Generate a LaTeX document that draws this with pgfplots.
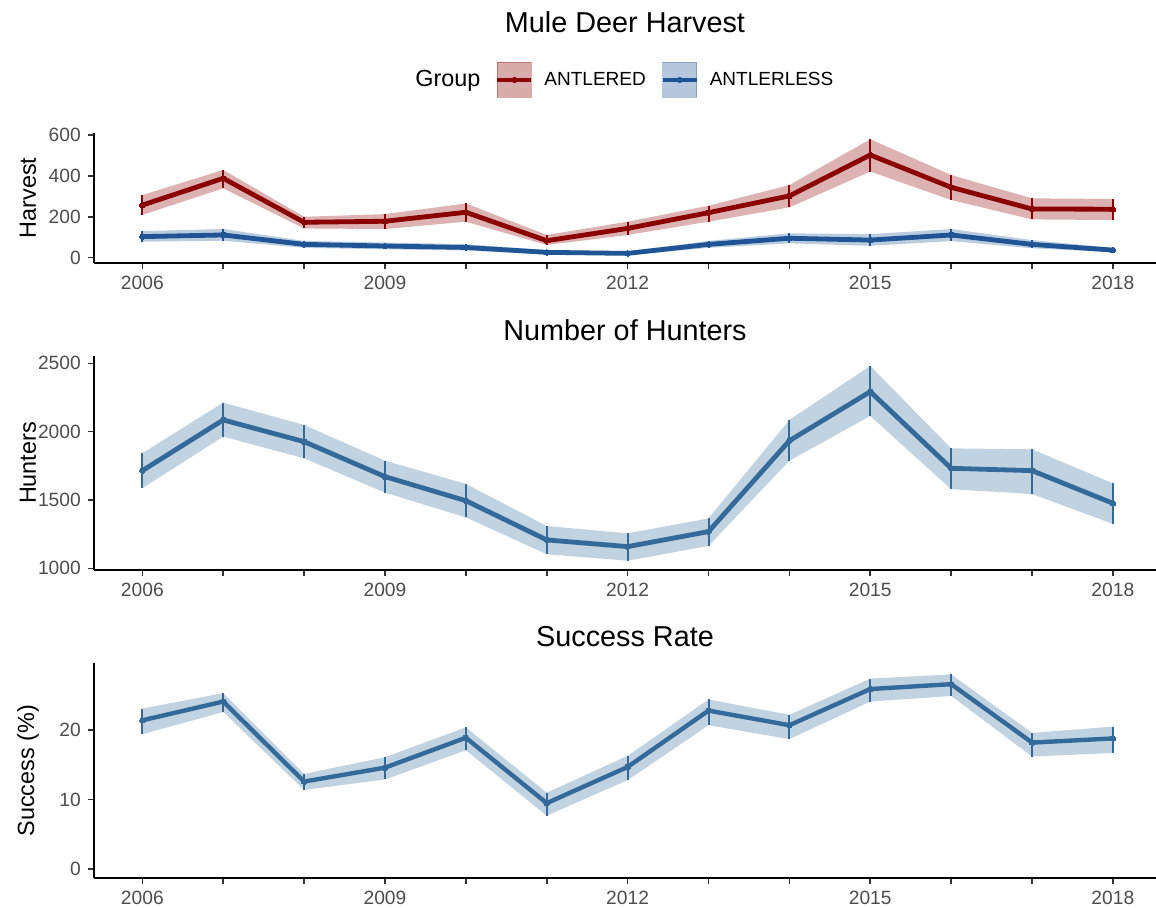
\documentclass[border=0pt]{standalone}
\usepackage{fontspec}
\setmainfont{Liberation Sans}
\usepackage{pgfplots}
\pgfplotsset{compat=1.18}
\usepackage{pgfplotstable}
\usepgfplotslibrary{fillbetween}

\definecolor{antlered}{HTML}{8B0000}
\definecolor{antlerless}{HTML}{1F5595}
\definecolor{hunt}{HTML}{336A9A}
\definecolor{ticktext}{HTML}{4D4D4D}

% year, estimate, lower and upper bound
\pgfplotstableread{
year m   lo  hi
2006 257 209 306
2007 388 339 429
2008 173 143 200
2009 178 140 213
2010 222 176 265
2011 83  62  111
2012 143 111 176
2013 220 176 254
2014 302 246 355
2015 502 421 579
2016 344 282 404
2017 238 187 290
2018 237 184 287
}\antleredtab

\pgfplotstableread{
year m   lo  hi
2006 103 78  130
2007 111 83  140
2008 65  48  82
2009 57  41  74
2010 50  35  66
2011 26  16  37
2012 21  12  31
2013 65  48  82
2014 95  70  119
2015 86  58  115
2016 111 81  140
2017 65  46  86
2018 37  27  48
}\antlerlesstab

\pgfplotstableread{
year m    lo   hi
2006 1715 1586 1842
2007 2086 1964 2213
2008 1927 1805 2049
2009 1671 1554 1788
2010 1495 1373 1618
2011 1208 1103 1310
2012 1159 1056 1256
2013 1269 1164 1366
2014 1934 1788 2086
2015 2293 2115 2481
2016 1732 1579 1878
2017 1715 1544 1871
2018 1476 1325 1622
}\huntertab

\pgfplotstableread{
year m    lo   hi
2006 21.4 19.4 23.1
2007 24.1 22.6 25.3
2008 12.6 11.4 13.7
2009 14.6 12.9 16.1
2010 18.9 17.1 20.4
2011 9.5  7.7  11.0
2012 14.7 12.8 16.3
2013 22.8 20.7 24.4
2014 20.7 18.7 22.2
2015 25.9 24.1 27.4
2016 26.6 24.9 28.0
2017 18.2 16.2 19.6
2018 18.8 16.7 20.5
}\successtab

\pgfplotsset{
  panel/.style={
    scale only axis,
    width=531pt,
    xmin=2005.4, xmax=2018.53,
    axis x line*=bottom,
    axis y line*=left,
    axis line style={line width=0.8pt, black},
    xtick={2006,...,2018},
    xticklabels={2006,,,2009,,,2012,,,2015,,,2018},
    tick align=outside,
    major tick length=3pt,
    tick style={line width=0.8pt, black!80},
    ticklabel style={font=\fontsize{9.6}{11}\selectfont, text=ticktext},
    /pgf/number format/assume math mode=true,
    /pgf/number format/1000 sep={},
    ylabel style={font=\fontsize{11.7}{14}\selectfont,
      at={(rel axis cs:-0.062,0.5)}, anchor=center},
  },
}

% draws ribbon, line and error bars of a table in a colour
\newcommand{\band}[5]{% table, colour, line width, fill opacity, name
  \addplot[name path=#5hi, draw=none, forget plot] table[x=year, y=hi] {#1};
  \addplot[name path=#5lo, draw=none, forget plot] table[x=year, y=lo] {#1};
  \addplot[fill=#2, fill opacity=#4, draw=none, forget plot] fill between[of=#5hi and #5lo];
  \addplot[#2, line width=#3, line join=round, mark=*, mark size=1.4pt,
    mark options={line width=0pt, fill=#2}, forget plot,
    error bars/.cd, y dir=both, y explicit, error mark=none,
    error bar style={line width=1pt, #2}]
    table[x=year, y=m,
      y error plus expr=\thisrow{hi}-\thisrow{m},
      y error minus expr=\thisrow{m}-\thisrow{lo}] {#1};
}

\begin{document}
\begin{tikzpicture}

\node[font=\fontsize{14.4}{17}\selectfont] at (312.5pt,443pt) {Mule Deer Harvest};
\node[font=\fontsize{14.4}{17}\selectfont] at (312.5pt,289pt) {Number of Hunters};
\node[font=\fontsize{14.4}{17}\selectfont] at (312.5pt,135.5pt) {Success Rate};

% harvest by group
\begin{axis}[panel, at={(46.9pt,322.35pt)}, anchor=south west,
  height=65.3pt, ymin=-27.4, ymax=611, ytick={0,200,400,600},
  ylabel={Harvest},
  legend columns=3,
  legend style={at={(0.2921,1.4035)}, anchor=west, draw=none, fill=none,
    inner sep=0pt, font=\fontsize{9.5}{11}\selectfont,
    nodes={inner sep=0pt},
    /tikz/every odd column/.append style={column sep=5.5pt},
    /tikz/every even column/.append style={column sep=7.5pt}},
  ]
  \band{\antleredtab}{antlered}{2.4pt}{0.3}{ad}
  \band{\antlerlesstab}{antlerless}{2.4pt}{0.3}{al}
  \addlegendimage{empty legend}
  \addlegendentry[font=\fontsize{11.7}{14}\selectfont]{Group}
  \addlegendimage{legend image code/.code={
    \fill[antlered, opacity=0.33] (0pt,-8.75pt) rectangle (17pt,8.75pt);
    \draw[antlered, line width=2pt] (0pt,0pt) -- (17pt,0pt);
    \fill[antlered] (8.5pt,0pt) circle (1.3pt);}}
  \addlegendentry{ANTLERED}
  \addlegendimage{legend image code/.code={
    \fill[antlerless, opacity=0.33] (0pt,-8.75pt) rectangle (17pt,8.75pt);
    \draw[antlerless, line width=2pt] (0pt,0pt) -- (17pt,0pt);
    \fill[antlerless] (8.5pt,0pt) circle (1.3pt);}}
  \addlegendentry{ANTLERLESS}
\end{axis}

% hunters
\begin{axis}[panel, at={(46.9pt,169pt)}, anchor=south west,
  height=107pt, ymin=988, ymax=2554, ytick={1000,1500,2000,2500},
  ylabel={Hunters}]
  \band{\huntertab}{hunt}{2.4pt}{0.3}{hu}
\end{axis}

% success rate
\begin{axis}[panel, at={(46.9pt,14.85pt)}, anchor=south west,
  height=107.5pt, ymin=-1.3, ymax=29.6, ytick={0,10,20},
  ylabel={Success (\%)}]
  \band{\successtab}{hunt}{2.2pt}{0.3}{su}
\end{axis}

\pgfresetboundingbox
\path (0pt,0pt) rectangle (578pt,454pt);
\end{tikzpicture}
\end{document}
